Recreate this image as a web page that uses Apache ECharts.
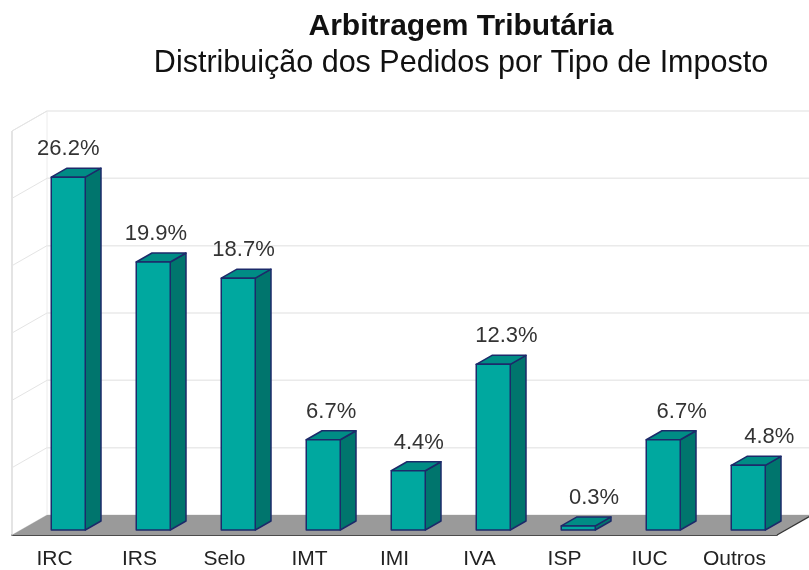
<!DOCTYPE html>
<html>
<head>
<meta charset="UTF-8">
<title>Arbitragem Tributária</title>
<script src="https://cdn.jsdelivr.net/npm/echarts@6/dist/echarts.min.js"></script>
<style>
	html,body{margin:0;padding:0;background:#fff;}
	#main{width:809px;height:570px;}
</style>
</head>
<body>
<div id="main"></div>
<script>
	const categories = ['IRC','IRS','Selo','IMT','IMI','IVA','ISP','IUC','Outros']
	const shares = [26.2,19.9,18.7,6.7,4.4,12.3,0.3,6.7,4.8]
	const yTicks = [0,5,10,15,20,25,30]

	// depth of the floor (offset of the back wall), px
	const DX = 35, DY = -20
	// where the bar sits inside that depth (0 = front, 1 = back)
	const BAR_FRONT = 0.25, BAR_BACK = 0.7
	const BAR_W = 34, BAR_SHIFT = -12

	const FONT = '"Liberation Sans", Arial, Helvetica, sans-serif'

	let chart = echarts.init(document.getElementById('main'))

	// walls + floor, drawn once from the first data item
	function renderScene(params, api) {
		let band = api.size([1, 0])[0]
		let first = api.coord([0, 0])
		let last = api.coord([categories.length - 1, 0])
		let x0 = first[0] - band / 2
		let x1 = last[0] + band / 2
		let y0 = first[1]
		let yTop = api.coord([0, yTicks[yTicks.length - 1]])[1]
		let kids = []
		// left wall: front edge, back edge, top edge
		kids.push({type:'line', shape:{x1:x0, y1:y0, x2:x0, y2:yTop}, style:{stroke:'#d2d2d2', lineWidth:1.2}})
		kids.push({type:'line', shape:{x1:x0+DX, y1:y0+DY, x2:x0+DX, y2:yTop+DY}, style:{stroke:'#ececec', lineWidth:1}})
		kids.push({type:'line', shape:{x1:x0, y1:yTop, x2:x0+DX, y2:yTop+DY}, style:{stroke:'#e6e6e6', lineWidth:1}})
		for (let t of yTicks) {
			let y = api.coord([0, t])[1]
			// back wall line
			kids.push({type:'line', shape:{x1:x0+DX, y1:y+DY, x2:x1+DX+60, y2:y+DY}, style:{stroke:'#eaeaea', lineWidth:1.5}})
			// left wall diagonal
			kids.push({type:'line', shape:{x1:x0, y1:y, x2:x0+DX, y2:y+DY}, style:{stroke:'#e4e4e4', lineWidth:1}})
		}
		// floor
		kids.push({
			type:'polygon',
			shape:{points:[[x0,y0],[x1,y0],[x1+DX,y0+DY],[x0+DX,y0+DY]]},
			style:{fill:'#9a9a9a', stroke:null}
		})
		kids.push({type:'line', shape:{x1:x1, y1:y0, x2:x1+DX, y2:y0+DY}, style:{stroke:'#333', lineWidth:1.2}})
		return {type:'group', children:kids}
	}

	function renderBar(params, api) {
		let i = api.value(0)
		let v = api.value(1)
		let band = api.size([1, 0])[0]
		let base = api.coord([i, 0])
		let top = api.coord([i, v])
		let x0 = api.coord([0, 0])[0] - band / 2
		let fdx = DX * BAR_FRONT, fdy = DY * BAR_FRONT
		let sdx = DX * (BAR_BACK - BAR_FRONT), sdy = DY * (BAR_BACK - BAR_FRONT)
		let l = base[0] + BAR_SHIFT + fdx
		let r = l + BAR_W
		let b = base[1] + fdy
		let t = top[1] + fdy
		let edge = {stroke:'#1c2a6a', lineWidth:1.5, lineJoin:'round'}
		let labelX = (l + r) / 2 + (base[0] - x0 - band / 2) * 0.031
		return {
			type:'group',
			children:[
				{type:'polygon', shape:{points:[[r,b],[r+sdx,b+sdy],[r+sdx,t+sdy],[r,t]]}, style:Object.assign({fill:'#00756d'}, edge)},
				{type:'polygon', shape:{points:[[l,t],[r,t],[r+sdx,t+sdy],[l+sdx,t+sdy]]}, style:Object.assign({fill:'#008c85'}, edge)},
				{type:'rect', shape:{x:l, y:t, width:BAR_W, height:b - t}, style:Object.assign({fill:'#00a89f'}, edge)},
				{type:'text', x:labelX, y:t - 28, style:{
					text:v.toFixed(1) + '%', fill:'#333', font:'22px ' + FONT,
					textAlign:'center', textVerticalAlign:'middle'
				}}
			]
		}
	}

	let option = {
		animation:false,
		backgroundColor:'#fff',
		graphic:[
			{type:'text', x:461, y:27, style:{text:'Arbitragem Tributária', fill:'#111', font:'bold 30px ' + FONT, textAlign:'center', textVerticalAlign:'middle'}},
			{type:'text', x:461, y:64, style:{text:'Distribuição dos Pedidos por Tipo de Imposto', fill:'#111', font:'30.5px ' + FONT, textAlign:'center', textVerticalAlign:'middle'}}
		],
		grid:{left:12, right:32, top:131, bottom:35},
		xAxis:{
			type:'category',
			data:categories,
			axisLine:{lineStyle:{color:'#111', width:1.5}},
			axisTick:{alignWithLabel:false, length:7, lineStyle:{color:'#111', width:1.5}},
			axisLabel:{color:'#222', fontSize:21, fontFamily:FONT, margin:14}
		},
		yAxis:{
			type:'value', min:0, max:30, interval:5,
			axisLine:{show:false}, axisTick:{show:false}, axisLabel:{show:false}, splitLine:{show:false}
		},
		series:[
			{
				type:'custom', z:1, silent:true,
				renderItem:renderScene,
				data:[[0, 0]]
			},
			{
				type:'custom', z:5,
				renderItem:renderBar,
				data:shares.map((s, i) => [i, s])
			}
		]
	}
	chart.setOption(option)
</script>
</body>
</html>
